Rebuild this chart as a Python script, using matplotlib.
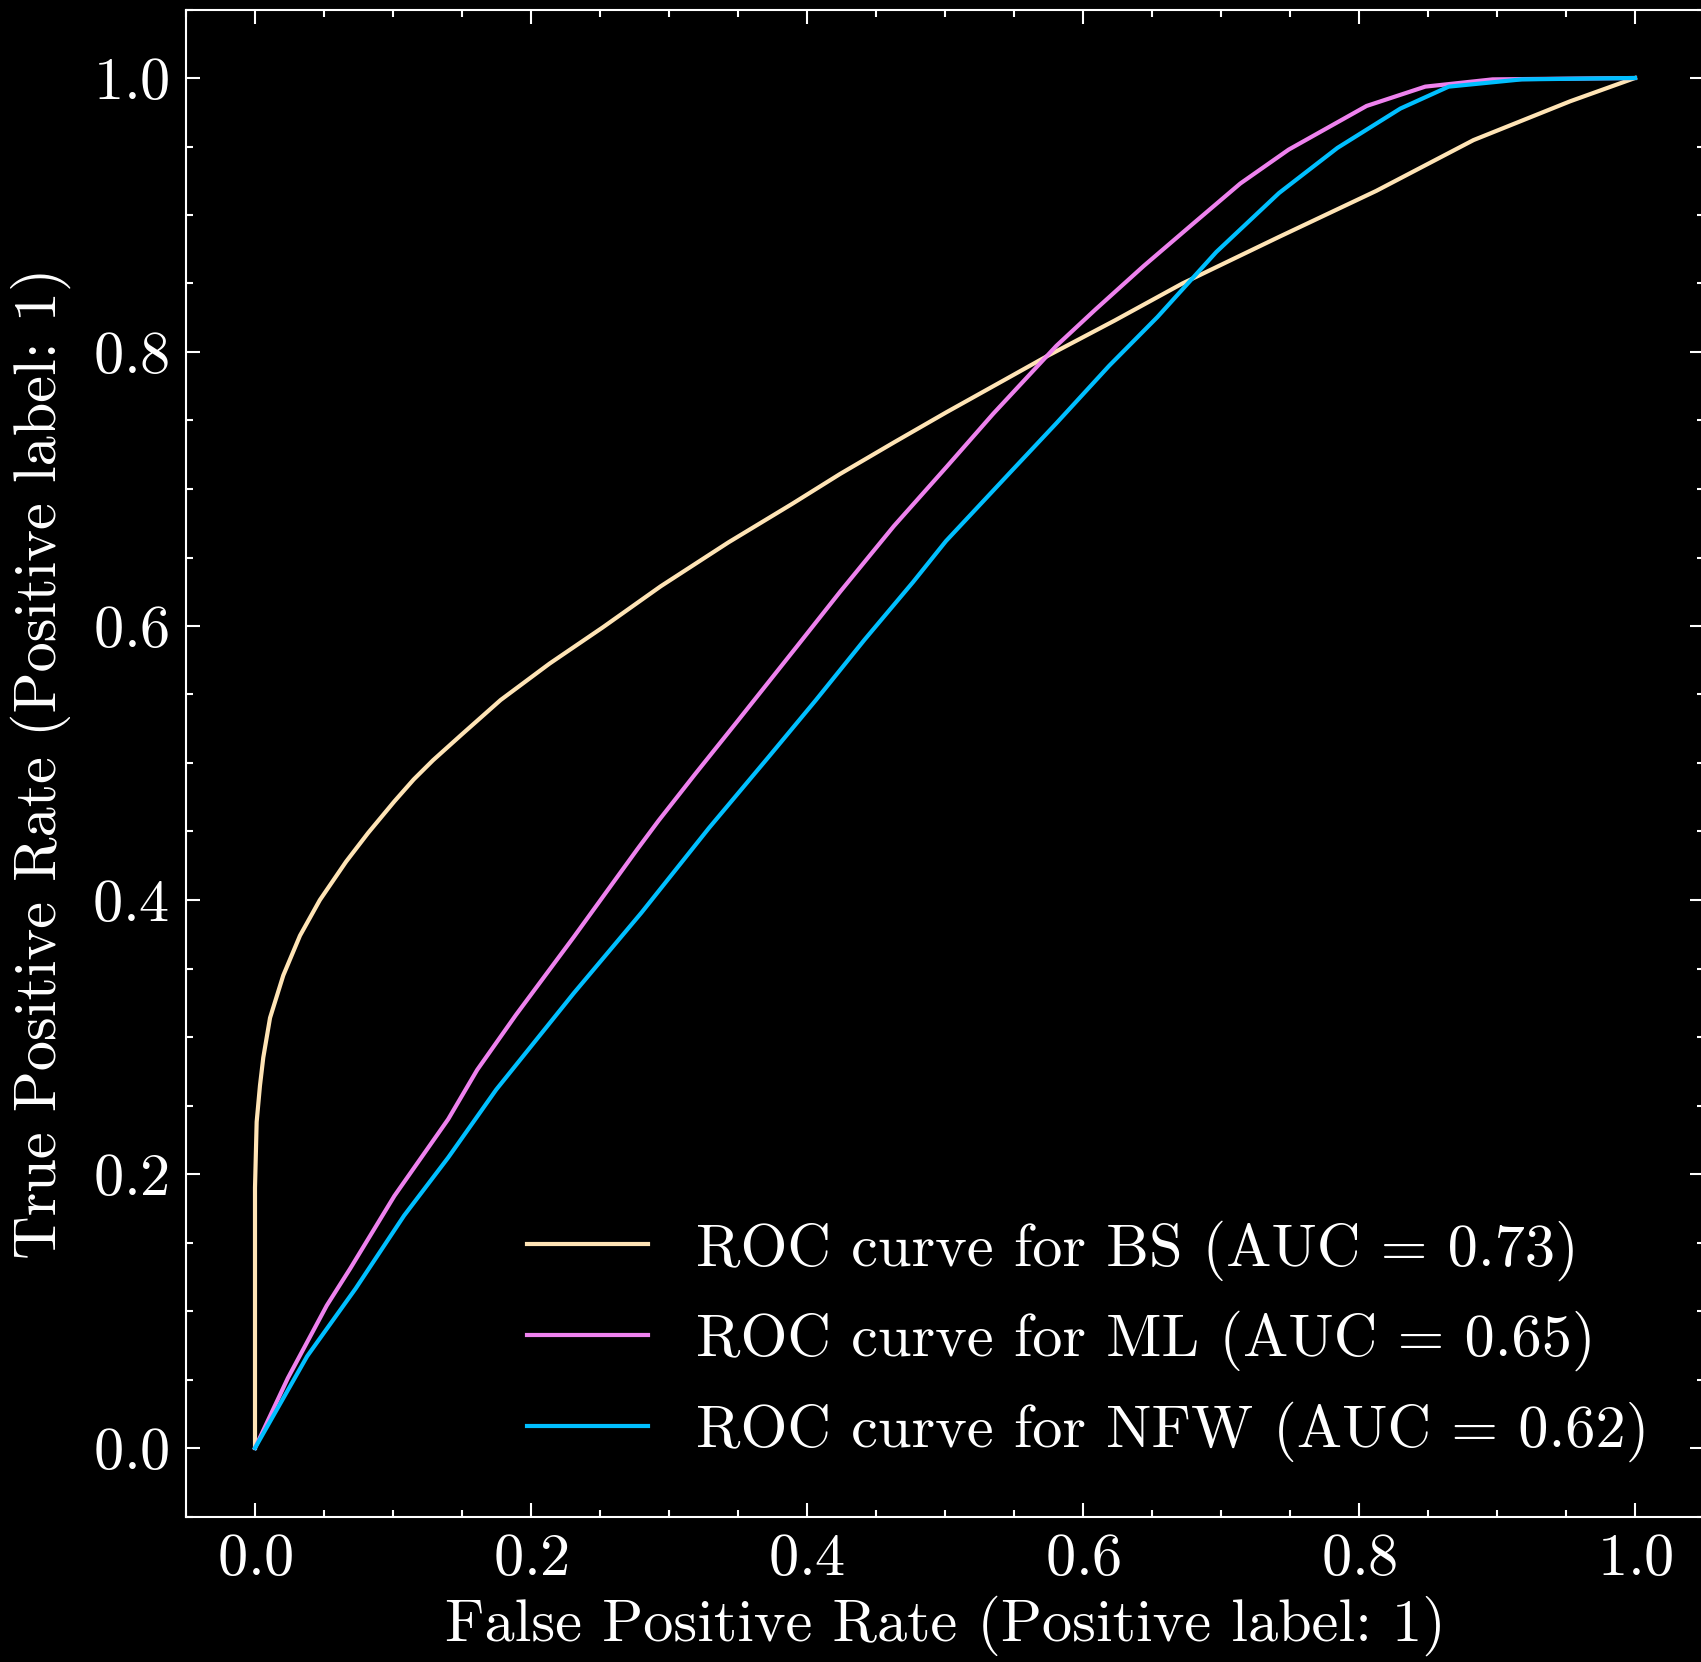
import numpy as np
import matplotlib.pyplot as plt
from matplotlib.ticker import MultipleLocator

# ROC curves (false positive rate, true positive rate)
fpr_bs = [0.0, 0.0, 0.0012, 0.0036, 0.006, 0.0109, 0.0205, 0.0326, 0.047, 0.066, 0.082,
          0.101, 0.115, 0.129, 0.150, 0.178, 0.2135, 0.252, 0.294, 0.343, 0.389, 0.424,
          0.463, 0.501, 0.542, 0.574, 0.623, 0.672, 0.742, 0.8125, 0.883, 0.953, 1.0]
tpr_bs = [0.0, 0.19, 0.238, 0.2645, 0.285, 0.314, 0.345, 0.374, 0.400, 0.428, 0.449,
          0.472, 0.488, 0.502, 0.521, 0.546, 0.5726, 0.599, 0.629, 0.661, 0.689, 0.711,
          0.734, 0.756, 0.779, 0.797, 0.823, 0.850, 0.884, 0.9176, 0.9547, 0.983, 1.0]

fpr_ml = [0.0, 0.0238, 0.052, 0.069, 0.101, 0.140, 0.161, 0.189, 0.231, 0.277, 0.2925,
          0.319, 0.350, 0.3926, 0.424, 0.463, 0.501, 0.535, 0.5807, 0.609, 0.644,
          0.679, 0.714, 0.749, 0.8055, 0.848, 0.8968, 1.0]
tpr_ml = [0.0, 0.051, 0.104, 0.131, 0.184, 0.240, 0.276, 0.316, 0.373, 0.437, 0.458,
          0.492, 0.531, 0.585, 0.625, 0.673, 0.716, 0.755, 0.8045, 0.831, 0.8628,
          0.893, 0.923, 0.9477, 0.9796, 0.9937, 0.999, 1.0]

fpr_nfw = [0.0, 0.0378, 0.073, 0.108, 0.140, 0.1748, 0.231, 0.280, 0.329, 0.3715,
           0.4065, 0.4417, 0.4768, 0.5007, 0.549, 0.5807, 0.619, 0.654, 0.6966, 0.742,
           0.7844, 0.830, 0.865, 0.918, 1.0]
tpr_nfw = [0.0, 0.067, 0.1165, 0.1696, 0.212, 0.2616, 0.332, 0.3907, 0.4526, 0.5036,
           0.546, 0.590, 0.632, 0.662, 0.714, 0.748, 0.790, 0.8256, 0.873, 0.916,
           0.949, 0.9777, 0.9937, 0.999, 1.0]

labels = ["ROC curve for BS (AUC = 0.73)",
          "ROC curve for ML (AUC = 0.65)",
          "ROC curve for NFW (AUC = 0.62)"]
colors = ["#FFE4B5", "violet", "deepskyblue"]

plt.rcParams["font.family"] = "cmr10"
plt.rcParams["mathtext.fontset"] = "cm"
plt.rcParams["axes.formatter.use_mathtext"] = True
plt.rcParams["font.size"] = 14.5

fig = plt.figure(figsize=(1701 / 300, 1662 / 300), dpi=300, facecolor="black")
ax = fig.add_axes([186 / 1701, (1662 - 1516.5) / 1662, 1518 / 1701, 1507 / 1662])
ax.set_facecolor("black")

ax.plot(fpr_bs, tpr_bs, color=colors[0], lw=1.0, label=labels[0])
ax.plot(fpr_ml, tpr_ml, color=colors[1], lw=1.0, label=labels[1])
ax.plot(fpr_nfw, tpr_nfw, color=colors[2], lw=1.0, label=labels[2])

ax.set_xlim(-0.05, 1.05)
ax.set_ylim(-0.05, 1.05)
ax.xaxis.set_major_locator(MultipleLocator(0.2))
ax.yaxis.set_major_locator(MultipleLocator(0.2))
ax.xaxis.set_minor_locator(MultipleLocator(0.05))
ax.yaxis.set_minor_locator(MultipleLocator(0.05))
ax.tick_params(which="both", direction="in", top=True, right=True,
               colors="white", labelcolor="white", width=0.5)
ax.tick_params(which="major", length=3.4, pad=4)
ax.tick_params(which="minor", length=1.7)
for s in ax.spines.values():
    s.set_color("white")
    s.set_linewidth(0.5)

ax.set_xlabel("False Positive Rate (Positive label: 1)", color="white", labelpad=2)
ax.set_ylabel("True Positive Rate (Positive label: 1)", color="white", labelpad=5)

leg = ax.legend(loc="lower right", frameon=False)
for t in leg.get_texts():
    t.set_color("white")

fig.savefig("out.png", dpi=300, facecolor="black")
